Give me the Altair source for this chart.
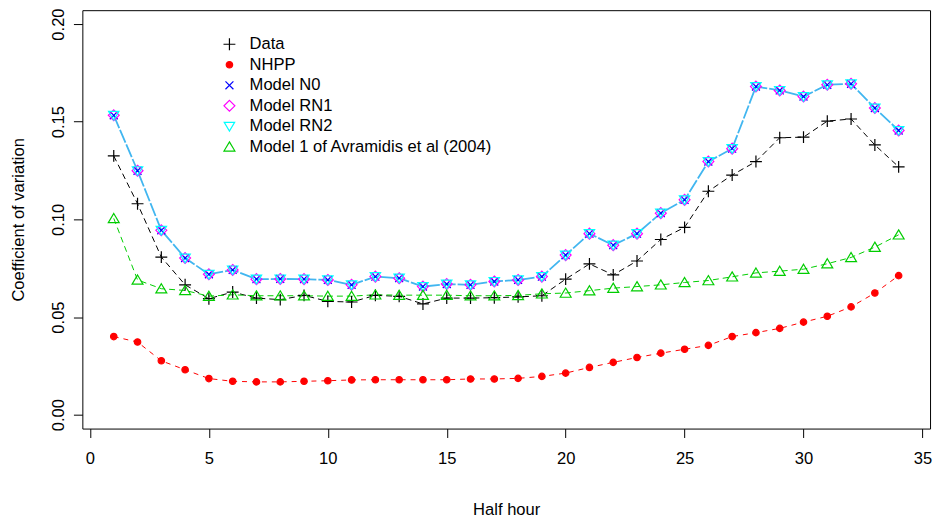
import altair as alt
import pandas as pd

half_hour = list(range(1, 35))

series_names = ["Data", "NHPP", "Model N0", "Model RN1", "Model RN2",
                "Model 1 of Avramidis et al (2004)"]

data_cv = [0.1325, 0.1080, 0.0807, 0.0665, 0.0594, 0.0628, 0.0597, 0.0589, 0.0611, 0.0580,
           0.0577, 0.0611, 0.0606, 0.0567, 0.0597, 0.0597, 0.0599, 0.0603, 0.0609, 0.0694,
           0.0772, 0.0716, 0.0787, 0.0897, 0.0959, 0.1144, 0.1227, 0.1296, 0.1418, 0.1421,
           0.1503, 0.1514, 0.1381, 0.1269]

nhpp_cv = [0.0400, 0.0372, 0.0276, 0.0230, 0.0185, 0.0171, 0.0168, 0.0168, 0.0171, 0.0174,
           0.0178, 0.0179, 0.0179, 0.0179, 0.0179, 0.0183, 0.0183, 0.0186, 0.0196, 0.0213,
           0.0242, 0.0268, 0.0293, 0.0315, 0.0335, 0.0355, 0.0400, 0.0420, 0.0442, 0.0474,
           0.0504, 0.0552, 0.0623, 0.0712]

model_n0_cv = [0.1533, 0.1249, 0.0944, 0.0802, 0.0719, 0.0741, 0.0694, 0.0695, 0.0694, 0.0690,
               0.0665, 0.0707, 0.0699, 0.0656, 0.0669, 0.0665, 0.0682, 0.0690, 0.0707, 0.0817,
               0.0927, 0.0868, 0.0927, 0.1032, 0.1100, 0.1296, 0.1362, 0.1680, 0.1660, 0.1629,
               0.1689, 0.1694, 0.1570, 0.1455]

model_rn1_cv = [0.1533, 0.1249, 0.0944, 0.0802, 0.0719, 0.0741, 0.0694, 0.0695, 0.0694, 0.0690,
                0.0665, 0.0707, 0.0699, 0.0656, 0.0669, 0.0665, 0.0682, 0.0690, 0.0707, 0.0817,
                0.0927, 0.0868, 0.0927, 0.1032, 0.1100, 0.1296, 0.1362, 0.1680, 0.1660, 0.1629,
                0.1689, 0.1694, 0.1570, 0.1455]

model_rn2_cv = [0.1533, 0.1249, 0.0944, 0.0802, 0.0719, 0.0741, 0.0694, 0.0695, 0.0694, 0.0690,
                0.0665, 0.0707, 0.0699, 0.0656, 0.0669, 0.0665, 0.0682, 0.0690, 0.0707, 0.0817,
                0.0927, 0.0868, 0.0927, 0.1032, 0.1100, 0.1296, 0.1362, 0.1680, 0.1660, 0.1629,
                0.1689, 0.1694, 0.1570, 0.1455]

avramidis_cv = [0.1005, 0.0690, 0.0645, 0.0636, 0.0607, 0.0614, 0.0609, 0.0609, 0.0609, 0.0607,
                0.0607, 0.0614, 0.0612, 0.0612, 0.0612, 0.0609, 0.0609, 0.0611, 0.0619, 0.0623,
                0.0635, 0.0648, 0.0656, 0.0665, 0.0677, 0.0687, 0.0706, 0.0726, 0.0735, 0.0745,
                0.0773, 0.0805, 0.0858, 0.0921]

x_ticks = [0, 5, 10, 15, 20, 25, 30, 35]
y_ticks = [0.0, 0.05, 0.10, 0.15, 0.20]

all_series = [data_cv, nhpp_cv, model_n0_cv, model_rn1_cv, model_rn2_cv, avramidis_cv]
rows = []
for name, vals in zip(series_names, all_series):
    for h, v in zip(half_hour, vals):
        rows.append({"series": name, "x": h, "cv": v})
df = pd.DataFrame(rows)

FONT = "Liberation Sans"
FS = 16.7

stroke_colors = ["black", "red", "blue", "magenta", "cyan", "#00CD00"]
fill_colors = ["transparent", "red", "transparent", "transparent", "transparent", "transparent"]
shapes = [
    "M-1.2,0L1.2,0M0,-1.2L0,1.2",
    "M0.65,0A0.65,0.65,0,1,1,-0.65,0A0.65,0.65,0,1,1,0.65,0Z",
    "M-0.8,-0.8L0.8,0.8M-0.8,0.8L0.8,-0.8",
    "M0,-1.1L1.1,0L0,1.1L-1.1,0Z",
    "M-1.05,-0.8L1.05,-0.8L0,0.95Z",
    "M0,-1L1.1,0.85L-1.1,0.85Z",
]

x_enc = alt.X("x:Q",
              scale=alt.Scale(domain=[-0.32, 35.32], nice=False, zero=False),
              axis=alt.Axis(values=x_ticks, title="Half hour", grid=False, domain=False,
                            tickSize=9, tickColor="black", tickWidth=1,
                            labelFont=FONT, labelFontSize=FS, labelColor="black",
                            labelPadding=13, labelFlush=False, labelOverlap=False,
                            titleFont=FONT, titleFontSize=FS, titleFontWeight="normal",
                            titleColor="black", titleY=82, titleBaseline="middle"))
y_enc = alt.Y("cv:Q",
              scale=alt.Scale(domain=[-0.0071, 0.2071], nice=False, zero=False),
              axis=alt.Axis(values=y_ticks, format=".2f", title="Coefficient of variation",
                            grid=False, domain=False, tickSize=9, tickColor="black",
                            tickWidth=1, labelFont=FONT, labelFontSize=FS,
                            labelColor="black", labelAngle=270, labelAlign="center",
                            labelBaseline="alphabetic", labelPadding=10,
                            labelFlush=False, labelOverlap=False,
                            titleFont=FONT, titleFontSize=FS, titleFontWeight="normal",
                            titleColor="black", titleAngle=270, titleX=-64.5, titleY=211,
                            titleAlign="center", titleBaseline="middle"))

base = alt.Chart(df)

line_styles = [
    ("Data", "black", 1.0, [6, 4]),
    ("NHPP", "red", 1.0, [5, 5]),
    ("Model N0", "#41B6F0", 1.8, [14, 2]),
    ("Model 1 of Avramidis et al (2004)", "#00CD00", 1.0, [6, 4]),
]
lines = []
for name, col, w, dash in line_styles:
    lines.append(
        base.transform_filter(alt.datum.series == name)
        .mark_line(color=col, strokeWidth=w, strokeDash=dash)
        .encode(x=x_enc, y=y_enc)
    )

legend = alt.Legend(title=None, orient="none", legendX=140, legendY=26,
                    labelFont=FONT, labelFontSize=FS, labelColor="black", labelLimit=0,
                    symbolSize=100, symbolStrokeWidth=1.2, rowPadding=2.7,
                    labelOffset=12, padding=0)

points = base.mark_point(strokeWidth=1.2, size=100, opacity=1).encode(
    x=x_enc, y=y_enc,
    stroke=alt.Stroke("series:N", scale=alt.Scale(domain=series_names, range=stroke_colors),
                      legend=legend),
    fill=alt.Fill("series:N", scale=alt.Scale(domain=series_names, range=fill_colors),
                  legend=legend),
    shape=alt.Shape("series:N", scale=alt.Scale(domain=series_names, range=shapes),
                    legend=legend),
)

chart = alt.layer(*lines, points).properties(
    width=855, height=422,
    autosize=alt.AutoSizeParams(type="none"),
    padding={"left": 75, "top": 0, "right": 5, "bottom": 88},
    background="white",
).configure_view(stroke="black", strokeWidth=1)

chart.save("out.html", embed_options={"renderer": "svg", "actions": False})
